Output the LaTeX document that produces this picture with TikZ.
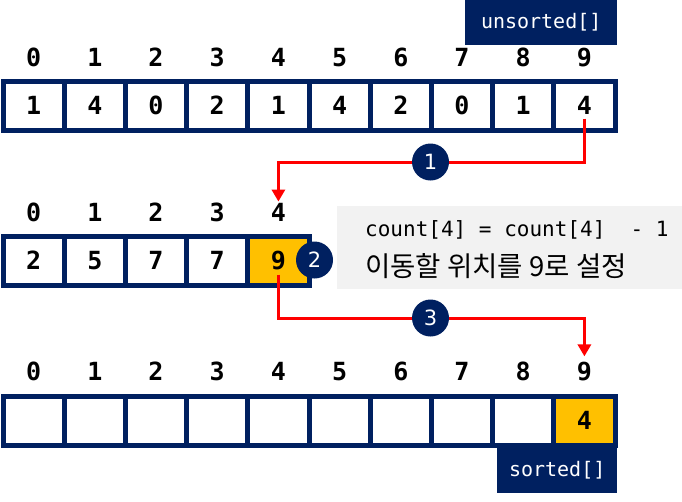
\documentclass[tikz,border=0pt]{standalone}
\usepackage{fontspec}
\setmainfont{DejaVu Sans}
\setmonofont{DejaVu Sans Mono}
\newfontfamily\krfont{Noto Sans CJK KR}
\usetikzlibrary{arrows.meta}
\definecolor{navy}{HTML}{002060}
\definecolor{amber}{HTML}{FFC000}
\definecolor{lightgrey}{HTML}{F2F2F2}
\definecolor{redline}{HTML}{FF0000}
\tikzset{
  digitfont/.style={font=\ttfamily\bfseries\fontsize{25}{25}\selectfont},
  cellbox/.style={draw=navy, line width=5pt, fill=white, minimum width=61.2pt, minimum height=49pt, inner sep=0pt,
    text height=18pt, text depth=0pt, digitfont},
  hotcell/.style={cellbox, fill=amber},
  idx/.style={inner sep=0pt, anchor=base, digitfont},
  stepcirc/.style={circle, fill=navy, minimum size=37pt, inner sep=0pt, text=white,
    font=\fontsize{21}{21}\selectfont},
  labelbox/.style={fill=navy, text=white, anchor=north west, inner sep=0pt,
    font=\ttfamily\fontsize{20}{20}\selectfont},
  flow/.style={draw=redline, line width=3pt, -{Triangle[width=13pt,length=12pt]}},
}
\begin{document}
\begin{tikzpicture}[x=1pt,y=-1pt]
\useasboundingbox (0,0) rectangle (682,501);

% labels
\node[labelbox, minimum width=152pt, minimum height=45pt] (lu) at (465,0) {unsorted[]};
\node[labelbox, minimum width=120pt, minimum height=45pt] (ls) at (497,448) {sorted[]};

% top array
\foreach \v [count=\k from 0] in {1,4,0,2,1,4,2,0,1,4} {
  \node[cellbox] (t\k) at ({33.6+61.2*\k},105.5) {\v};
  \node[idx] (ti\k) at ({33.6+61.2*\k},66) {\k};
}

% middle array
\foreach \v [count=\k from 0] in {2,5,7,7} {
  \node[cellbox] (m\k) at ({33.6+61.2*\k},260.5) {\v};
  \node[idx] (mi\k) at ({33.6+61.2*\k},221) {\k};
}
\node[hotcell] (m4) at ({33.6+61.2*4},260.5) {9};
\node[idx] (mi4) at ({33.6+61.2*4},221) {4};

% bottom array
\foreach \k in {0,...,8} {
  \node[cellbox] (b\k) at ({33.6+61.2*\k},420.5) {};
}
\node[hotcell] (b9) at ({33.6+61.2*9},420.5) {4};
\foreach \k in {0,...,9} {
  \node[idx] (bi\k) at ({33.6+61.2*\k},380) {\k};
}

% note box
\node[fill=lightgrey, anchor=north west, minimum width=345pt, minimum height=83pt, inner sep=0pt] (gb) at (337,206) {};
\node[anchor=base west, inner sep=0pt, font=\ttfamily\fontsize{21}{21}\selectfont] (code) at (365,236) {count[4] = count[4]\ \ -\ 1};
\node[anchor=base west, inner sep=0pt, font=\krfont\fontsize{27.5}{27.5}\selectfont] (kr) at (365,276) {이동할 위치를 9로 설정};

% connectors
\coordinate (c1p) at (430.5,162);
\coordinate (c3p) at (430.5,318);
\draw[flow] ([yshift=-13pt]t9.center) |- (c1p) -| ([yshift=1pt]mi4.north);
\draw[flow] ([yshift=-14pt]m4.center) |- (c3p) -| ([yshift=5pt]bi9.north);

% step markers
\node[stepcirc] (c1) at (c1p) {1};
\node[stepcirc] (c2) at (314.5,260) {2};
\node[stepcirc] (c3) at (c3p) {3};
\end{tikzpicture}
\end{document}
